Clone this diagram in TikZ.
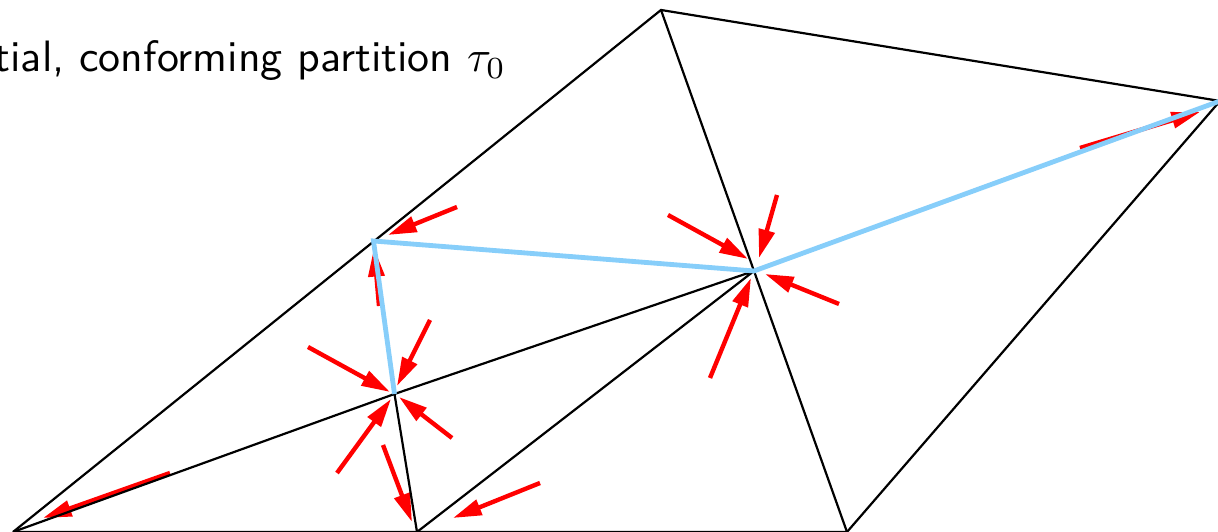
\documentclass[tikz,border=0pt]{standalone}
\usepackage{tikz}
\usetikzlibrary{arrows.meta,calc}
\definecolor{skyblue}{RGB}{135,206,250}

\begin{document}
\begin{tikzpicture}[>={Triangle[length=6.5pt,width=3.6pt]}, font=\sffamily,
    edge/.style={line width=0.5pt},
    marked/.style={draw=skyblue, line width=1.1pt},
    refine/.style={->, red, line width=1pt}]
\clip (0,0) rectangle (9.744,4.256);
\coordinate (A) at (0.104,0);
\coordinate (B) at (3.336,0);
\coordinate (C) at (6.776,0);
\coordinate (D) at (9.76,3.448);
\coordinate (E) at (5.288,4.176);
\coordinate (F) at (2.988,2.328);
\coordinate (G) at (3.156,1.104);
\coordinate (H) at ($(E)!0.5!(C)$);
\node[anchor=base east, inner sep=0pt] (title) at (4.056,3.68) {Initial, conforming partition $\tau_0$};
\draw[refine] (3.656,2.6) -- (3.104,2.376);
\draw[refine] (3.032,1.808) -- (2.992,2.272);
\draw[refine] (2.464,1.48) -- (3.12,1.12);
\draw[refine] (3.44,1.696) -- (3.176,1.168);
\draw[refine] (3.616,0.752) -- (3.192,1.08);
\draw[refine] (2.696,0.472) -- (3.128,1.064);
\draw[refine] (3.064,0.696) -- (3.296,0.08);
\draw[refine] (4.32,0.392) -- (3.624,0.112);
\draw[refine] (1.36,0.472) -- (0.344,0.112);
\draw[refine] (5.344,2.536) -- (5.984,2.184);
\draw[refine] (6.216,2.696) -- (6.072,2.192);
\draw[refine] (6.712,1.824) -- (6.12,2.064);
\draw[refine] (5.68,1.232) -- (6.008,2.032);
\draw[refine] (8.64,3.072) -- (9.6,3.36);
\draw[edge] (A) -- (E) -- (D) -- (C) -- (A);
\draw[edge] (E) -- (C);
\draw[edge] (A) -- (G) -- (H) -- (B) -- (G);
\draw[marked] (G) -- (F) -- (H) -- (D);
\end{tikzpicture}
\end{document}
